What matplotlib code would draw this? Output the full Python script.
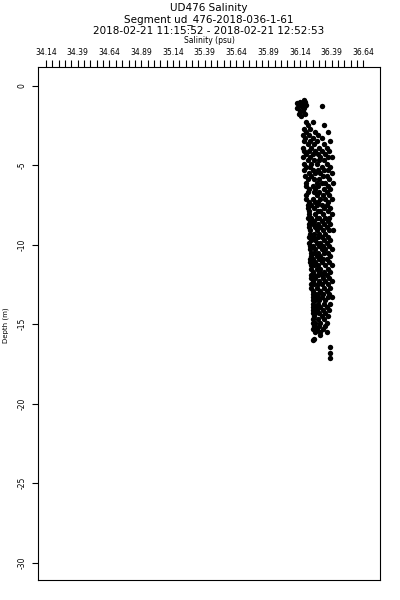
import numpy as np
import matplotlib
matplotlib.use("Agg")
import matplotlib.pyplot as plt
from matplotlib.ticker import FixedLocator

# depth (m) of each sample row and the salinities (psu) read in that row
band_depth = [0.9, 1.0, 1.1, 1.2, 1.3, 1.4, 1.6, 1.8, 1.9, 2.3, 2.5, 2.7, 2.9,
              3.1, 3.3, 3.5, 3.7, 3.9, 4.1, 4.3, 4.5, 4.7, 4.9, 5.1, 5.3, 5.5,
              5.7, 5.9, 6.1, 6.3, 6.5, 6.7, 6.9, 7.1, 7.3, 7.5, 7.7, 7.9, 8.1,
              8.3, 8.5, 8.7, 8.9, 9.1, 9.3, 9.5, 9.7, 9.9, 10.1, 10.3, 10.5,
              10.7, 10.9, 11.1, 11.3, 11.5, 11.7, 11.9, 12.1, 12.3, 12.5, 12.7,
              12.9, 13.1, 13.3, 13.5, 13.7, 13.9, 14.1, 14.3, 14.5, 14.7, 14.9,
              15.1, 15.3, 15.5, 15.7, 15.9, 16.0, 16.4, 16.8, 17.1]
band_salinity = [
    [36.17], [36.14, 36.18], [36.12, 36.16], [36.13, 36.19], [36.31, 36.15],
    [36.12, 36.17], [36.14, 36.16], [36.13, 36.18], [36.15], [36.24, 36.19],
    [36.20, 36.33], [36.17, 36.22], [36.26, 36.36, 36.19], [36.16, 36.21, 36.28],
    [36.18, 36.24, 36.31], [36.17, 36.22, 36.27, 36.38], [36.20, 36.25, 36.33],
    [36.16, 36.23, 36.29, 36.35], [36.17, 36.21, 36.26, 36.31, 36.37],
    [36.19, 36.24, 36.28, 36.34], [36.16, 36.22, 36.30, 36.36, 36.39],
    [36.20, 36.25, 36.29, 36.33], [36.17, 36.23, 36.27, 36.35],
    [36.19, 36.22, 36.31, 36.38], [36.17, 36.24, 36.28, 36.33, 36.36],
    [36.21, 36.26, 36.30, 36.39], [36.18, 36.23, 36.32, 36.35],
    [36.20, 36.25, 36.29, 36.37], [36.19, 36.27, 36.31, 36.34, 36.40],
    [36.19, 36.24, 36.28, 36.36], [36.21, 36.26, 36.33, 36.38],
    [36.20, 36.25, 36.29, 36.35], [36.19, 36.27, 36.32, 36.37],
    [36.19, 36.24, 36.30, 36.34, 36.39], [36.21, 36.26, 36.28, 36.36],
    [36.20, 36.23, 36.27, 36.31, 36.35], [36.20, 36.25, 36.33, 36.38],
    [36.21, 36.28, 36.30, 36.36], [36.21, 36.26, 36.32, 36.39],
    [36.20, 36.23, 36.27, 36.29, 36.34, 36.37], [36.22, 36.25, 36.31, 36.36],
    [36.21, 36.24, 36.28, 36.33, 36.38], [36.21, 36.26, 36.30, 36.35],
    [36.22, 36.27, 36.32, 36.37, 36.40], [36.22, 36.25, 36.29, 36.34],
    [36.21, 36.24, 36.28, 36.31, 36.36], [36.23, 36.26, 36.33, 36.38],
    [36.21, 36.27, 36.30, 36.35], [36.22, 36.24, 36.29, 36.32, 36.37],
    [36.22, 36.26, 36.31, 36.34, 36.39], [36.23, 36.25, 36.28, 36.33, 36.36],
    [36.23, 36.27, 36.30, 36.38], [36.22, 36.24, 36.29, 36.32, 36.35],
    [36.22, 36.26, 36.31, 36.37], [36.23, 36.25, 36.28, 36.34, 36.39],
    [36.23, 36.27, 36.30, 36.36], [36.24, 36.29, 36.33, 36.38],
    [36.23, 36.25, 36.28, 36.31, 36.35], [36.23, 36.26, 36.32, 36.37],
    [36.24, 36.29, 36.34, 36.39], [36.23, 36.25, 36.28, 36.31, 36.36],
    [36.23, 36.27, 36.33, 36.38], [36.24, 36.30, 36.35],
    [36.24, 36.26, 36.28, 36.32, 36.37], [36.24, 36.27, 36.31, 36.36, 36.39],
    [36.24, 36.26, 36.29, 36.34], [36.24, 36.28, 36.33, 36.38],
    [36.24, 36.26, 36.30, 36.35], [36.24, 36.27, 36.32, 36.37],
    [36.24, 36.26, 36.29, 36.34], [36.25, 36.31, 36.36], [36.24, 36.28, 36.33],
    [36.24, 36.26, 36.30, 36.35], [36.25, 36.29, 36.34], [36.24, 36.27, 36.32],
    [36.26, 36.30, 36.35], [36.30], [36.25], [36.24], [36.38], [36.38],
    [36.38],
]

title_lines = ["UD476 Salinity",
               "Segment ud_476-2018-036-1-61",
               "2018-02-21 11:15:52 - 2018-02-21 12:52:53"]
x_label = "Salinity (psu)"
y_label = "Depth (m)"
x_ticks = [34.14, 34.39, 34.64, 34.89, 35.14, 35.39, 35.64, 35.89, 36.14, 36.39, 36.64]
y_ticks = [0, -5, -10, -15, -20, -25, -30]

depth = np.concatenate([[d] * len(s) for d, s in zip(band_depth, band_salinity)])
salinity = np.concatenate(band_salinity)

plt.rcParams['font.family'] = ['DejaVu Sans']
fig = plt.figure(figsize=(4, 6), dpi=100)
ax = fig.add_axes([0.095, 0.0333, 0.855, 0.855])

ax.scatter(salinity, -depth, s=15, c='black', linewidths=0)

ax.set_xlim(34.077, 36.77)
ax.set_ylim(-31.08, 1.17)

ax.xaxis.set_ticks_position('top')
ax.xaxis.set_label_position('top')
ax.set_xticks(x_ticks)
ax.set_xticklabels([f"{v:.2f}" for v in x_ticks], fontsize=5.5)
ax.xaxis.set_minor_locator(FixedLocator(np.round(np.arange(34.14, 36.66, 0.05), 2)))
ax.tick_params(axis='x', which='both', direction='out', length=5, width=0.8, pad=2)
ax.set_xlabel(x_label, fontsize=5.5, labelpad=4)

ax.set_yticks(y_ticks)
ax.set_yticklabels([str(v) for v in y_ticks], fontsize=5.5, rotation=90, va='center')
ax.tick_params(axis='y', direction='out', length=4, width=0.8, pad=4)

for sp in ax.spines.values():
    sp.set_linewidth(0.8)

fig.text(6 / 400, 1 - 325 / 600, y_label, rotation=90, ha='center', va='center', fontsize=5)

cx = 0.095 + 0.855 / 2
for i, line in enumerate(title_lines):
    fig.text(cx, 1 - (8 + 11.5 * i) / 600, line, ha='center', va='center', fontsize=7.5)

fig.savefig("out.png", dpi=100)
